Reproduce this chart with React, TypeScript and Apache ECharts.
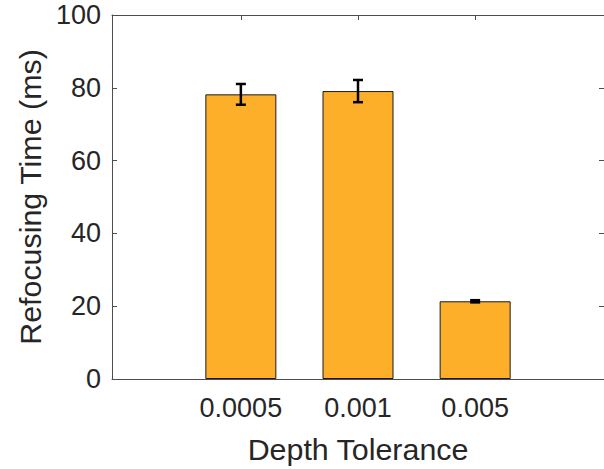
import React, { useEffect, useRef } from "react";
import * as echarts from "echarts";

const categories = ["0.0005", "0.001", "0.005"];
const positions = [1, 2, 3];
const meanValues = [78.2, 79.1, 21.35];
const errorValues = [2.85, 3.05, 0.3];

const FONT = "'Liberation Sans', Arial, Helvetica, sans-serif";
const AXIS_COLOR = "#4d4d4d";
const TEXT_COLOR = "#262626";

export default function App() {
  const ref = useRef<HTMLDivElement>(null);
  useEffect(() => {
    document.body.style.margin = "0";
    const chart = echarts.init(ref.current!, null, { renderer: "svg" });
    const barData = positions.map((p, i) => [p, meanValues[i]]);
    const errData = positions.map((p, i) => [p, meanValues[i] - errorValues[i], meanValues[i] + errorValues[i]]);
    const lineStyle = { color: AXIS_COLOR, width: 1 };
    chart.setOption({
      animation: false,
      grid: { left: 112, top: 15, width: 495, height: 368.7, containLabel: false },
      xAxis: [
        {
          type: "value",
          position: "bottom",
          min: -0.1,
          max: 4.1,
          name: "Depth Tolerance",
          nameLocation: "middle",
          nameGap: 55,
          nameTextStyle: { fontSize: 30.4, color: TEXT_COLOR, fontFamily: FONT },
          axisLine: { show: true, onZero: false, lineStyle },
          axisTick: { show: true, inside: true, length: 5, lineStyle, customValues: positions },
          axisLabel: {
            show: true,
            customValues: positions,
            margin: 15,
            fontSize: 27,
            color: TEXT_COLOR,
            fontFamily: FONT,
            formatter: (v: number) => {
              const i = positions.indexOf(Math.round(v));
              return i >= 0 ? categories[i] : "";
            },
          },
          splitLine: { show: false },
        },
        {
          type: "value",
          position: "top",
          min: -0.1,
          max: 4.1,
          axisLine: { show: true, onZero: false, lineStyle },
          axisTick: { show: true, inside: true, length: 5, lineStyle, customValues: positions },
          axisLabel: { show: false },
          splitLine: { show: false },
        },
      ],
      yAxis: [
        {
          type: "value",
          position: "left",
          min: 0,
          max: 100,
          interval: 20,
          name: "Refocusing Time (ms)",
          nameLocation: "middle",
          nameGap: 62,
          nameTextStyle: { fontSize: 30.4, color: TEXT_COLOR, fontFamily: FONT },
          axisLine: { show: true, onZero: false, lineStyle },
          axisTick: { show: true, inside: true, length: 5, lineStyle },
          axisLabel: { margin: 11, fontSize: 27, color: TEXT_COLOR, fontFamily: FONT },
          splitLine: { show: false },
        },
        {
          type: "value",
          position: "right",
          min: 0,
          max: 100,
          interval: 20,
          axisLine: { show: true, onZero: false, lineStyle },
          axisTick: { show: true, inside: true, length: 5, lineStyle },
          axisLabel: { show: false },
          splitLine: { show: false },
        },
      ],
      series: [
        {
          type: "bar",
          data: barData,
          barWidth: 71,
          itemStyle: { color: "#FDAF2A", borderColor: "#1a1a1a", borderWidth: 1 },
          z: 2,
        },
        {
          type: "custom",
          data: errData,
          encode: { x: 0, y: [1, 2] },
          z: 5,
          renderItem: (params: any, api: any) => {
            const x = api.value(0);
            const lo = api.value(1);
            const hi = api.value(2);
            const pHi = api.coord([x, hi]);
            const pLo = api.coord([x, lo]);
            const half = 5;
            const style = { stroke: "#000", lineWidth: 2.5 };
            return {
              type: "group",
              children: [
                { type: "line", shape: { x1: pHi[0], y1: pHi[1], x2: pLo[0], y2: pLo[1] }, style },
                { type: "line", shape: { x1: pHi[0] - half, y1: pHi[1], x2: pHi[0] + half, y2: pHi[1] }, style },
                { type: "line", shape: { x1: pLo[0] - half, y1: pLo[1], x2: pLo[0] + half, y2: pLo[1] }, style },
              ],
            };
          },
        },
      ],
    });
    return () => chart.dispose();
  }, []);
  return <div ref={ref} style={{ width: 604, height: 469 }} />;
}
